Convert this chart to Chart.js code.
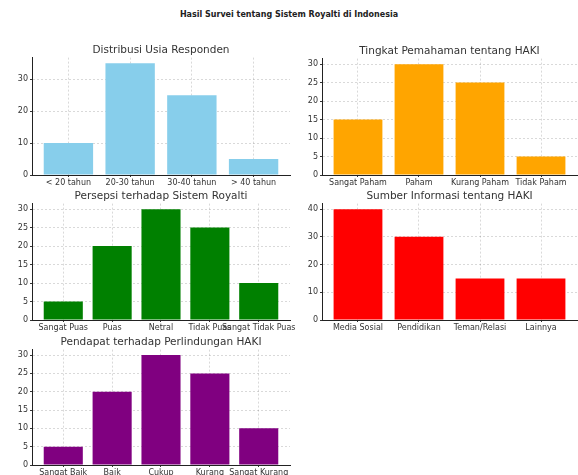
<!DOCTYPE html>
<html>
<head>
<meta charset="utf-8">
<script src="https://cdn.jsdelivr.net/npm/chart.js@4.4.1/dist/chart.umd.min.js"></script>
<style>
  body { margin: 0; width: 578px; height: 475px; overflow: hidden; background: #fff; position: relative; }
  #suptitle { position: absolute; top: 10px; left: 0; width: 578px; text-align: center;
    font: bold 8px "DejaVu Sans"; color: #222; }
  canvas { position: absolute; }
</style>
</head>
<body>
<div id="suptitle">Hasil Survei tentang Sistem Royalti di Indonesia</div>
<canvas id="c1" width="300" height="150" style="left:0;top:39px"></canvas>
<canvas id="c2" width="288" height="149" style="left:290px;top:40px"></canvas>
<canvas id="c3" width="300" height="149" style="left:0;top:185px"></canvas>
<canvas id="c4" width="288" height="149" style="left:290px;top:185px"></canvas>
<canvas id="c5" width="300" height="148" style="left:0;top:331px"></canvas>
<script>
var usiaLabels = ["< 20 tahun", "20-30 tahun", "30-40 tahun", "> 40 tahun"];
var usiaValues = [10, 35, 25, 5];

var pahamLabels = ["Sangat Paham", "Paham", "Kurang Paham", "Tidak Paham"];
var pahamValues = [15, 30, 25, 5];

var persepsiLabels = ["Sangat Puas", "Puas", "Netral", "Tidak Puas", "Sangat Tidak Puas"];
var persepsiValues = [5, 20, 30, 25, 10];

var sumberLabels = ["Media Sosial", "Pendidikan", "Teman/Relasi", "Lainnya"];
var sumberValues = [40, 30, 15, 15];

var pendapatLabels = ["Sangat Baik", "Baik", "Cukup", "Kurang", "Sangat Kurang"];
var pendapatValues = [5, 20, 30, 25, 10];

var gridColor = "rgba(0,0,0,0.15)";
var textColor = "#333";

function makeChart(id, title, labels, values, color, step, padRight) {
  var n = labels.length;
  var span = (n - 0.2) * 1.1;
  var margin = (span - (n - 0.2)) / 2;
  var xmin = -0.4 - margin;
  var xmax = n - 1 + 0.4 + margin;
  var ymax = Math.max.apply(null, values) * 1.05;
  new Chart(document.getElementById(id), {
    type: "bar",
    data: {
      datasets: [{
        data: values.map(function (v, i) { return { x: i, y: v }; }),
        backgroundColor: color,
        borderWidth: 0,
        categoryPercentage: 1,
        barPercentage: 0.8
      }]
    },
    options: {
      responsive: false,
      animation: false,
      layout: { padding: { right: padRight, left: 0, top: 0, bottom: 0 } },
      plugins: {
        legend: { display: false },
        tooltip: { enabled: false },
        title: {
          display: true,
          fullSize: false,
          text: title,
          color: textColor,
          font: { family: "DejaVu Sans", size: 10.5, weight: "normal" },
          padding: { top: 5, bottom: 1 }
        }
      },
      scales: {
        x: {
          type: "linear",
          min: xmin,
          max: xmax,
          offset: false,
          z: 1,
          grid: { offset: false, color: gridColor, tickLength: 2, tickColor: textColor },
          border: { display: true, color: "#222", width: 1, dash: [2, 2] },
          ticks: {
            stepSize: 1,
            includeBounds: false,
            autoSkip: false,
            maxRotation: 0,
            padding: 1,
            color: textColor,
            font: { family: "DejaVu Sans", size: 8 },
            callback: function (v) { return Number.isInteger(v) && labels[v] !== undefined ? labels[v] : ""; }
          },
          afterFit: function (s) { s.height = 14; s.paddingLeft = 0; s.paddingRight = 0; }
        },
        y: {
          min: 0,
          max: ymax,
          z: 1,
          grid: { color: gridColor, tickLength: 2, tickColor: textColor },
          border: { display: true, color: "#222", width: 1, dash: [2, 2] },
          ticks: {
            stepSize: step,
            includeBounds: false,
            padding: 2,
            color: textColor,
            font: { family: "DejaVu Sans", size: 8 }
          },
          afterFit: function (s) { s.width = 32; s.paddingTop = 0; s.paddingBottom = 0; }
        }
      }
    }
  });
}

makeChart("c1", "Distribusi Usia Responden", usiaLabels, usiaValues, "#87CEEB", 10, 10);
makeChart("c2", "Tingkat Pemahaman tentang HAKI", pahamLabels, pahamValues, "#FFA500", 5, 1);
makeChart("c3", "Persepsi terhadap Sistem Royalti", persepsiLabels, persepsiValues, "#008000", 5, 10);
makeChart("c4", "Sumber Informasi tentang HAKI", sumberLabels, sumberValues, "#FF0000", 10, 1);
makeChart("c5", "Pendapat terhadap Perlindungan HAKI", pendapatLabels, pendapatValues, "#800080", 5, 10);
</script>
</body>
</html>
